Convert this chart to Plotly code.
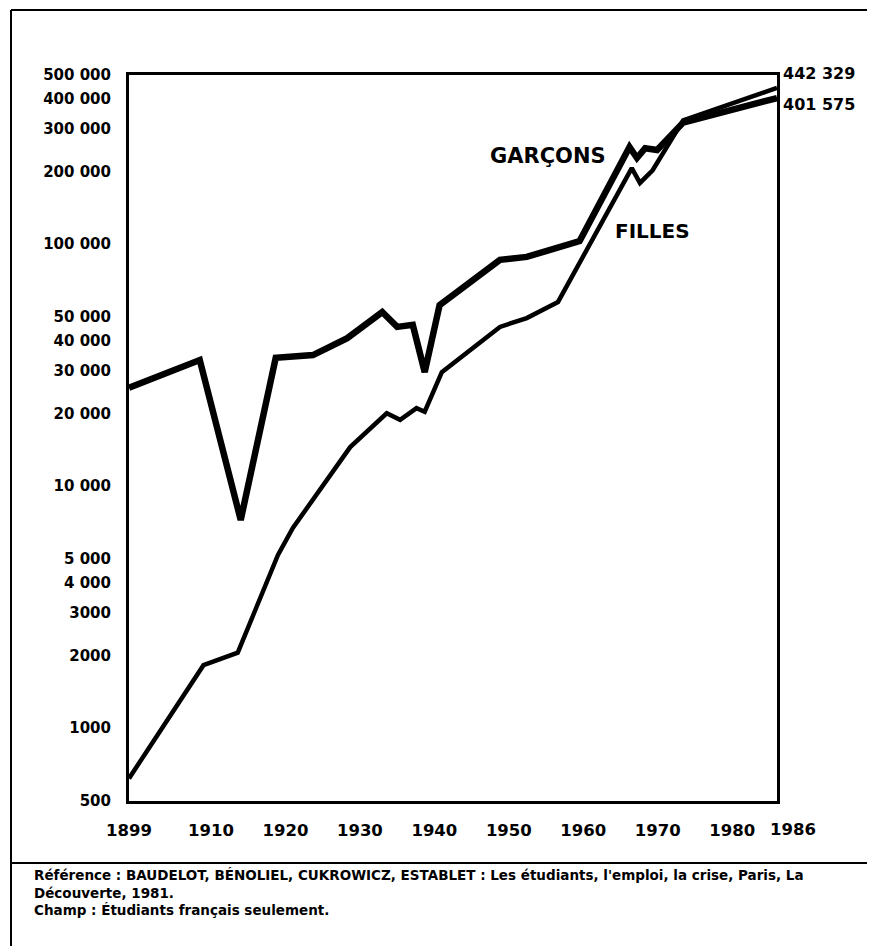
import plotly.graph_objects as go
import math

# ---------------- data ----------------
years_garcons = [1899, 1908.5, 1914, 1918.7, 1923.7, 1928.3, 1933, 1935, 1937.1, 1938.7,
                 1940.7, 1948.8, 1952.4, 1959.5, 1966.2, 1967.2, 1968.3, 1969.9, 1973.4, 1986]
garcons = [25500, 33200, 7250, 33900, 34800, 40900, 52400, 45500, 46400, 29600,
           56000, 86100, 88600, 103000, 252000, 227000, 249000, 245000, 318000, 401575]

years_filles = [1899, 1909, 1913.6, 1919, 1921, 1928.7, 1933.6, 1935.4, 1937.6, 1938.7,
                1941, 1948.8, 1952.4, 1956.6, 1966.5, 1967.6, 1969.3, 1973.4, 1986]
filles = [620, 1820, 2050, 5200, 6720, 14500, 20000, 18800, 21000, 20300,
          29600, 45500, 49500, 57700, 206000, 179000, 202000, 325000, 442329]

x_ticks = [1899, 1910, 1920, 1930, 1940, 1950, 1960, 1970, 1980]
x_last_tick = 1986
y_ticks = [500, 1000, 2000, 3000, 4000, 5000, 10000, 20000, 30000, 40000, 50000,
           100000, 200000, 300000, 400000, 500000]
y_tick_text = ["500", "1000", "2000", "3000", "4 000", "5 000", "10 000", "20 000",
               "30 000", "40 000", "50 000", "100 000", "200 000", "300 000",
               "400 000", "500 000"]

series_names = ["GARÇONS", "FILLES"]
footer_lines = [
    "Référence : BAUDELOT, BÉNOLIEL, CUKROWICZ, ESTABLET : Les étudiants, l'emploi, la crise, Paris, La",
    "Découverte, 1981.",
    "Champ : Étudiants français seulement.",
]

# ---------------- figure ----------------
OFF = 8                      # page body margin
W, H = 875 - OFF, 946 - OFF
PL, PR, PT, PB = 129, 777, 75, 801   # plot box in page pixels
L, T = PL - OFF, PT - OFF
R, B = W - (PR - OFF), H - (PB - OFF)
pw, ph = PR - PL, PB - PT


def px_x(p):
    return (p - PL) / pw


def px_y(p):
    return (PB - p) / ph


FONT = "DejaVu Sans"

fig = go.Figure()
fig.add_trace(go.Scatter(x=years_garcons, y=garcons, mode="lines", name=series_names[0],
                         line=dict(color="black", width=6.5), showlegend=False))
fig.add_trace(go.Scatter(x=years_filles, y=filles, mode="lines", name=series_names[1],
                         line=dict(color="black", width=4.5), showlegend=False))

fmt = lambda v: f"{v:,}".replace(",", " ")

annotations = [
    dict(x=px_x(781), y=px_y(73), xref="paper", yref="paper", text=fmt(filles[-1]),
         showarrow=False, xanchor="left", yanchor="middle",
         font=dict(family=FONT, size=16, color="black", weight="bold")),
    dict(x=px_x(781), y=px_y(105), xref="paper", yref="paper", text=fmt(garcons[-1]),
         showarrow=False, xanchor="left", yanchor="middle",
         font=dict(family=FONT, size=16, color="black", weight="bold")),
    dict(x=px_x(548), y=px_y(156), xref="paper", yref="paper", text=series_names[0],
         showarrow=False, xanchor="center", yanchor="middle",
         font=dict(family=FONT, size=21, color="black", weight="bold")),
    dict(x=px_x(652), y=px_y(231), xref="paper", yref="paper", text=series_names[1],
         showarrow=False, xanchor="center", yanchor="middle",
         font=dict(family=FONT, size=20, color="black", weight="bold")),
    # last x label, set slightly right of the axis end as in the original
    dict(x=x_last_tick, y=px_y(830), xref="x", yref="paper", text=str(x_last_tick),
         showarrow=False, xanchor="center", yanchor="middle", xshift=16,
         font=dict(family=FONT, size=16.5, color="black", weight="bold")),
    dict(x=px_x(32), y=px_y(865), xref="paper", yref="paper",
         text="<br>".join(footer_lines), align="left",
         showarrow=False, xanchor="left", yanchor="top",
         font=dict(family=FONT, size=13.5, color="black", weight="bold")),
]

shapes = [
    dict(type="line", xref="paper", yref="paper", x0=px_x(11), x1=px_x(11),
         y0=px_y(10), y1=px_y(946), line=dict(color="black", width=2)),
    dict(type="line", xref="paper", yref="paper", x0=px_x(11), x1=px_x(875),
         y0=px_y(10), y1=px_y(10), line=dict(color="black", width=2)),
    dict(type="line", xref="paper", yref="paper", x0=px_x(11), x1=px_x(875),
         y0=px_y(863), y1=px_y(863), line=dict(color="black", width=2)),
]

fig.update_layout(
    width=W, height=H,
    margin=dict(l=L, r=R, t=T, b=B),
    paper_bgcolor="white", plot_bgcolor="white",
    annotations=annotations, shapes=shapes,
    showlegend=False,
)
fig.update_xaxes(range=[1899, 1986], tickvals=x_ticks, ticktext=[str(v) for v in x_ticks],
                 tickangle=0,
                 showgrid=False, zeroline=False, showline=True, mirror=True,
                 linecolor="black", linewidth=3, ticks="", ticklabelstandoff=12,
                 tickfont=dict(family=FONT, size=16.5, color="black", weight="bold"))
fig.update_yaxes(type="log", range=[math.log10(500), math.log10(500000)],
                 tickvals=y_ticks, ticktext=y_tick_text,
                 showgrid=False, zeroline=False, showline=True, mirror=True,
                 linecolor="black", linewidth=3, ticks="", ticklabelstandoff=12,
                 tickfont=dict(family=FONT, size=15, color="black", weight="bold"))

fig.write_html("out.html")
